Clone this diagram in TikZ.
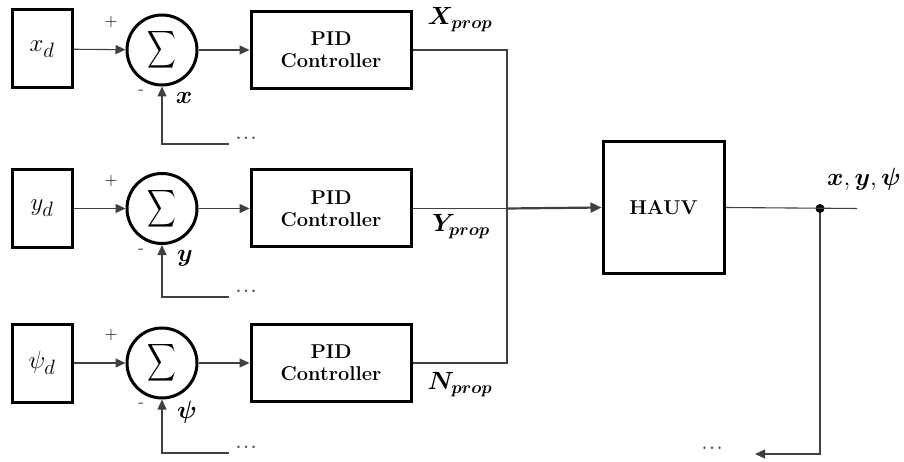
\documentclass[tikz,border=0pt]{standalone}
\usepackage{amsmath}
\usepackage{bm}
\usetikzlibrary{arrows.meta}
\begin{document}
\begin{tikzpicture}[x=1pt,y=-1pt,
  blk/.style={draw=black,line width=3pt,minimum width=#1,inner sep=0pt},
  sumc/.style={draw=black,line width=3pt,circle,minimum size=70pt,inner sep=0pt},
  conn/.style={draw=black!75,line width=1.1pt},
  arr/.style={conn,-{Triangle[length=10pt,width=9pt]}},
  ptxt/.style={font=\fontsize{20}{22}\selectfont\bfseries,align=center},
  mlab/.style={font=\fontsize{28}{30}\selectfont},
  olab/.style={font=\fontsize{26}{28}\selectfont},
  sgn/.style={font=\fontsize{18}{20}\selectfont},
  dts/.style={font=\fontsize{30}{32}\selectfont,text=black!70}]
\useasboundingbox (0,0) rectangle (904,462);
\fill[white] (0,0) rectangle (904,462);
\newcommand{\sumsym}{\scalebox{0.8}[1.05]{\fontsize{26}{28}\selectfont$\displaystyle\sum$}}
% row 1
\node[blk=60pt,minimum height=78pt,mlab] (xd) at (42,49) {$x_d$};
\node[sumc] (s1) at (162,50) {\sumsym};
\node[blk=160pt,minimum height=77pt,ptxt] (p1) at (331,50) {PID\\Controller};
% row 2
\node[blk=60pt,minimum height=78pt,mlab] (yd) at (42,208.5) {$y_d$};
\node[sumc] (s2) at (162,208.5) {\sumsym};
\node[blk=160pt,minimum height=77pt,ptxt] (p2) at (331,208.5) {PID\\Controller};
% row 3
\node[blk=60pt,minimum height=78pt,mlab] (pd) at (42,363) {$\psi_d$};
\node[sumc] (s3) at (162,363) {\sumsym};
\node[blk=160pt,minimum height=77pt,ptxt] (p3) at (331,363) {PID\\Controller};
% plant
\node[blk=121pt,minimum height=131pt,ptxt] (h) at (663.5,207.5) {HAUV};
% signs and labels
\node[sgn] (pl1) at (111,22) {+};
\node[sgn] (mi1) at (141,92) {-};
\node[sgn] (pl2) at (111,181) {+};
\node[sgn] (mi2) at (141,251) {-};
\node[sgn] (pl3) at (111,335) {+};
\node[sgn] (mi3) at (141,405) {-};
\node[mlab] (lx) at (184,98) {$\bm{x}$};
\node[mlab] (ly) at (185,258) {$\bm{y}$};
\node[mlab] (lp) at (187,412) {$\bm{\psi}$};
\node[olab] (lX) at (460,20) {$\bm{X_{prop}}$};
\node[olab] (lY) at (461,227) {$\bm{Y_{prop}}$};
\node[olab] (lN) at (460,385) {$\bm{N_{prop}}$};
\node[olab] (lo) at (864,179) {$\bm{x},\bm{y},\bm{\psi}$};
% forward connectors
\draw[arr] (xd) -- (s1);
\draw[arr] (s1) -- (p1);
\draw[arr] (yd) -- (s2);
\draw[arr] (s2) -- (p2);
\draw[arr] (pd) -- (s3);
\draw[arr] (s3) -- (p3);
% feedback inputs
\coordinate (f1) at (229,144);
\coordinate (f2) at (229,297);
\coordinate (f3) at (229,453);
\draw[arr] (f1) -| (s1.south);
\draw[arr] (f2) -| (s2.south);
\draw[arr] (f3) -| (s3.south);
\node[dts] (d1) at (246,138) {...};
\node[dts] (d2) at (246,291) {...};
\node[dts] (d3) at (246,447) {...};
% collection
\coordinate (j) at (507,208.5);
\draw[conn] (p1.east) -| (j);
\draw[conn] (p3.east) -| (j);
\draw[conn] (p2.east) -- (j);
\draw[conn,line width=2.2pt,-{Triangle[length=11pt,width=10pt]}] (j) -- (h.west);
% output
\coordinate (o) at (857,208.5);
\node[circle,fill=black,inner sep=0pt,minimum size=9pt] (dot) at (820,208.5) {};
\draw[conn] (h.east) -- (o);
\coordinate (fb) at (755,454);
\draw[arr] (dot) |- (fb);
\node[dts] (d4) at (712,448) {...};
\end{tikzpicture}
\end{document}
